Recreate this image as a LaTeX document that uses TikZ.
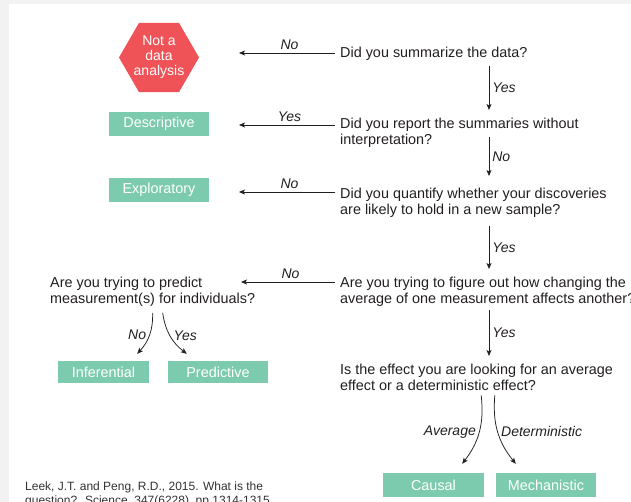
\documentclass[tikz,border=0pt]{standalone}
\usepackage{fontspec}
\setmainfont{Liberation Sans}
\usetikzlibrary{arrows.meta,shapes.geometric,positioning}

\definecolor{stopred}{HTML}{EF5257}
\definecolor{resgreen}{HTML}{7DCBAF}
\definecolor{ink}{HTML}{231F20}

\begin{document}
\begin{tikzpicture}[x=1pt,y=-1pt,node distance=66pt,on grid,
  every node/.style={font=\fontsize{14.4}{16}\selectfont,text=ink},
  q/.style={anchor=north west,align=left,inner sep=0pt},
  res/.style={fill=resgreen,text=white,minimum width=100pt,minimum height=24pt,inner sep=0pt},
  stop/.style={regular polygon,regular polygon sides=6,minimum size=80pt,inner sep=-6pt,
    fill=stopred,text=white,align=center,font=\fontsize{14}{15}\selectfont},
  lab/.style={font=\fontsize{14}{16}\selectfont\itshape,inner sep=3pt},
  arr/.style={draw=ink,line width=0.75pt,-{Stealth[length=6pt,width=5pt,inset=1.5pt]}},
  hl/.style={arr,shorten <=5pt}]
  % page
  \useasboundingbox (0,0) rectangle (631,502);
  \fill[gray!10] (0,0) rectangle (631,502);
  \fill[white] (9,4) rectangle (631,502);

  % questions
  \node[q] (q1) at (340,47)  {Did you summarize the data?};
  \node[q] (q2) at (340,118) {Did you report the summaries without\\interpretation?};
  \node[q] (q3) at (340,188) {Did you quantify whether your discoveries\\are likely to hold in a new sample?};
  \node[q] (q4) at (340,277) {Are you trying to figure out how changing the\\average of one measurement affects another?};
  \node[q] (q5) at (50,277)  {Are you trying to predict\\measurement(s) for individuals?};
  \node[q] (q6) at (340,364) {Is the effect you are looking for an average\\effect or a deterministic effect?};

  % answers
  \node[stop] (nda) at (159,57.5) {Not a\\data\\analysis};
  \node[res]  (desc) at (159,124) {Descriptive};
  \node[res]  (expl) [below=of desc] {Exploratory};
  \node[res,minimum width=91pt,minimum height=22pt] (infer) at (103.5,372) {Inferential};
  \node[res,minimum height=22pt] (pred) [right=114.5pt of infer] {Predictive};
  \node[res,minimum width=101pt] (causal) at (433.5,485) {Causal};
  \node[res] (mech) [right=112.5pt of causal] {Mechanistic};

  % arrow ends
  \coordinate (t1) at (239,53);
  \coordinate (t2) at (239,125);
  \coordinate (t3) at (239,192);
  \coordinate (t4) at (241,282);
  \coordinate (vx) at (489,0);

  \draw[hl] (q1.west |- t1) -- node[lab,above] {No} (t1);
  \draw[hl] (q2.west |- t2) -- node[lab,above] {Yes} (t2);
  \draw[hl] (q3.west |- t3) -- node[lab,above] {No} (t3);
  \draw[hl] (q4.west |- t4) -- node[lab,above] {No} (t4);

  \draw[arr] ([yshift=-5.5pt]q1.south -| vx) -- node[lab,right] {Yes} ([yshift=8pt]q2.north -| vx);
  \draw[arr] ([yshift=11pt]q2.south -| vx) -- node[lab,right] {No} ([yshift=12pt]q3.north -| vx);
  \draw[arr] ([yshift=-8.5pt]q3.south -| vx) -- node[lab,right] {Yes} ([yshift=8pt]q4.north -| vx);
  \draw[arr] ([yshift=-3.5pt]q4.south -| vx) -- node[lab,right] {Yes} ([yshift=8pt]q6.north -| vx);

  \draw[arr] ([yshift=-6pt]q5.south) to[bend left=22] node[lab,left] {No} ([xshift=-12pt,yshift=7pt]infer.north east);
  \draw[arr] ([xshift=10pt,yshift=-6pt]q5.south) to[bend right=22] node[lab,right] {Yes} ([xshift=19pt,yshift=7pt]pred.north west);
  \draw[arr] ([xshift=-3pt,yshift=-4.5pt]q6.south -| causal.east) to[bend left=22] node[lab,left] {Average} ([xshift=-22pt,yshift=9pt]causal.north east);
  \draw[arr] ([xshift=-1pt,yshift=-4.5pt]q6.south -| mech.west) to[bend right=22] node[lab,right] {Deterministic} ([xshift=20pt,yshift=9pt]mech.north west);

  % reference
  \node[anchor=north west,align=left,inner sep=0pt,text=black!80,font=\fontsize{12}{14}\selectfont] (cite) at (25,482)
    {Leek, J.T. and Peng, R.D., 2015. What is the\\question?. Science, 347(6228), pp.1314-1315.};
\end{tikzpicture}
\end{document}
